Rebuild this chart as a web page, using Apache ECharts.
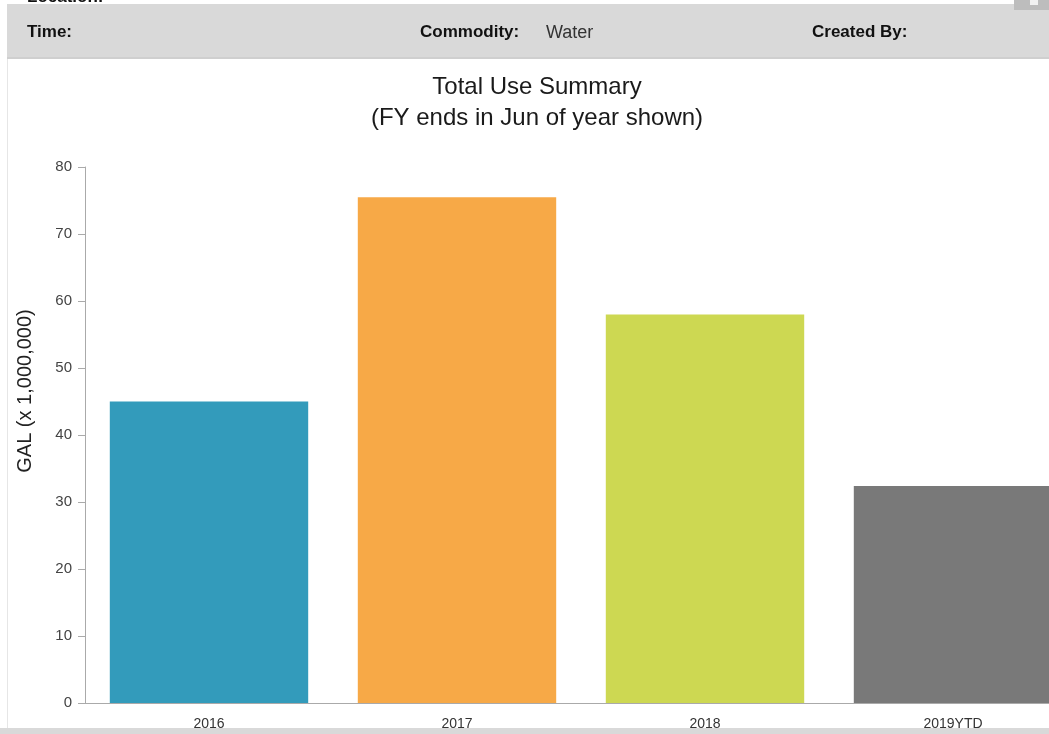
<!DOCTYPE html>
<html>
<head>
<meta charset="utf-8">
<script src="https://cdn.jsdelivr.net/npm/echarts@6/dist/echarts.min.js"></script>
<style>
html,body{margin:0;padding:0;background:#fff;overflow:hidden;width:1049px;height:734px;}
#c{width:1090px;height:734px;}
</style>
</head>
<body>
<div id="c"></div>
<script>
const categories = ['2016', '2017', '2018', '2019YTD'];
const values = [45.0, 75.5, 58.0, 32.4];
const barColors = ['#339bbb', '#f7a947', '#cdd852', '#797979'];
const yTicks = [0, 10, 20, 30, 40, 50, 60, 70, 80];

const FONT = "'Liberation Sans', Helvetica, Arial, sans-serif";
const chart = echarts.init(document.getElementById('c'), null, {renderer: 'canvas'});
chart.setOption({
  backgroundColor: '#ffffff',
  animation: false,
  title: {
    text: 'Total Use Summary\n(FY ends in Jun of year shown)',
    left: 532,
    top: 67,
    textAlign: 'center',
    textStyle: {fontFamily: FONT, fontSize: 24, fontWeight: 'normal', color: '#1a1a1a', lineHeight: 31}
  },
  grid: {left: 85, top: 167, right: 13, bottom: 31, containLabel: false},
  xAxis: {
    type: 'category',
    data: categories,
    axisLine: {lineStyle: {color: '#aaaaaa', width: 1}},
    axisTick: {show: false},
    axisLabel: {fontFamily: FONT, fontSize: 14, color: '#333', margin: 14}
  },
  yAxis: {
    type: 'value',
    min: yTicks[0],
    max: yTicks[yTicks.length - 1],
    interval: 10,
    splitLine: {show: false},
    axisLine: {show: true, lineStyle: {color: '#aaaaaa', width: 1}},
    axisTick: {show: true, length: 7, lineStyle: {color: '#aaaaaa'}},
    axisLabel: {fontFamily: FONT, fontSize: 15, color: '#444', margin: 13}
  },
  series: [{
    type: 'bar',
    barWidth: '80%',
    data: values.map((v, i) => ({value: v, itemStyle: {color: barColors[i]}}))
  }],
  graphic: [
    {type: 'rect', shape: {x: 7, y: 4, width: 1083, height: 54}, style: {fill: '#d9d9d9'}, z: 10},
    {type: 'rect', shape: {x: 7, y: 57, width: 1083, height: 2}, style: {fill: '#cfcfcf'}, z: 10},
    {type: 'rect', shape: {x: 1014, y: 0, width: 76, height: 10}, style: {fill: '#bdbdbd'}, z: 11},
    {type: 'rect', shape: {x: 1030, y: 0, width: 8, height: 5}, style: {fill: '#f2f2f2'}, z: 12},
    {type: 'text', x: 27, y: -11, style: {text: 'Location:', fontFamily: FONT, fontSize: 17, fontWeight: 'bold', fill: '#111'}, z: 12},
    {type: 'text', x: 27, y: 24, style: {text: 'Time:', fontFamily: FONT, fontSize: 17, fontWeight: 'bold', fill: '#111'}, z: 12},
    {type: 'text', x: 420, y: 24, style: {text: 'Commodity:', fontFamily: FONT, fontSize: 17, fontWeight: 'bold', fill: '#111'}, z: 12},
    {type: 'text', x: 546, y: 24, style: {text: 'Water', fontFamily: FONT, fontSize: 18, fill: '#333'}, z: 12},
    {type: 'text', x: 812, y: 24, style: {text: 'Created By:', fontFamily: FONT, fontSize: 17, fontWeight: 'bold', fill: '#111'}, z: 12},
    {type: 'rect', shape: {x: 7, y: 59, width: 1, height: 670}, style: {fill: '#e6e6e6'}, z: 5},
    {type: 'rect', shape: {x: 0, y: 728, width: 1090, height: 6}, style: {fill: '#d9d9d9'}, z: 10},
    {type: 'text', x: 25, y: 391, rotation: Math.PI / 2,
      style: {text: 'GAL (x 1,000,000)', fontFamily: FONT, fontSize: 20, fill: '#222', textAlign: 'center', textVerticalAlign: 'middle'}, z: 12}
  ]
});
</script>
</body>
</html>
